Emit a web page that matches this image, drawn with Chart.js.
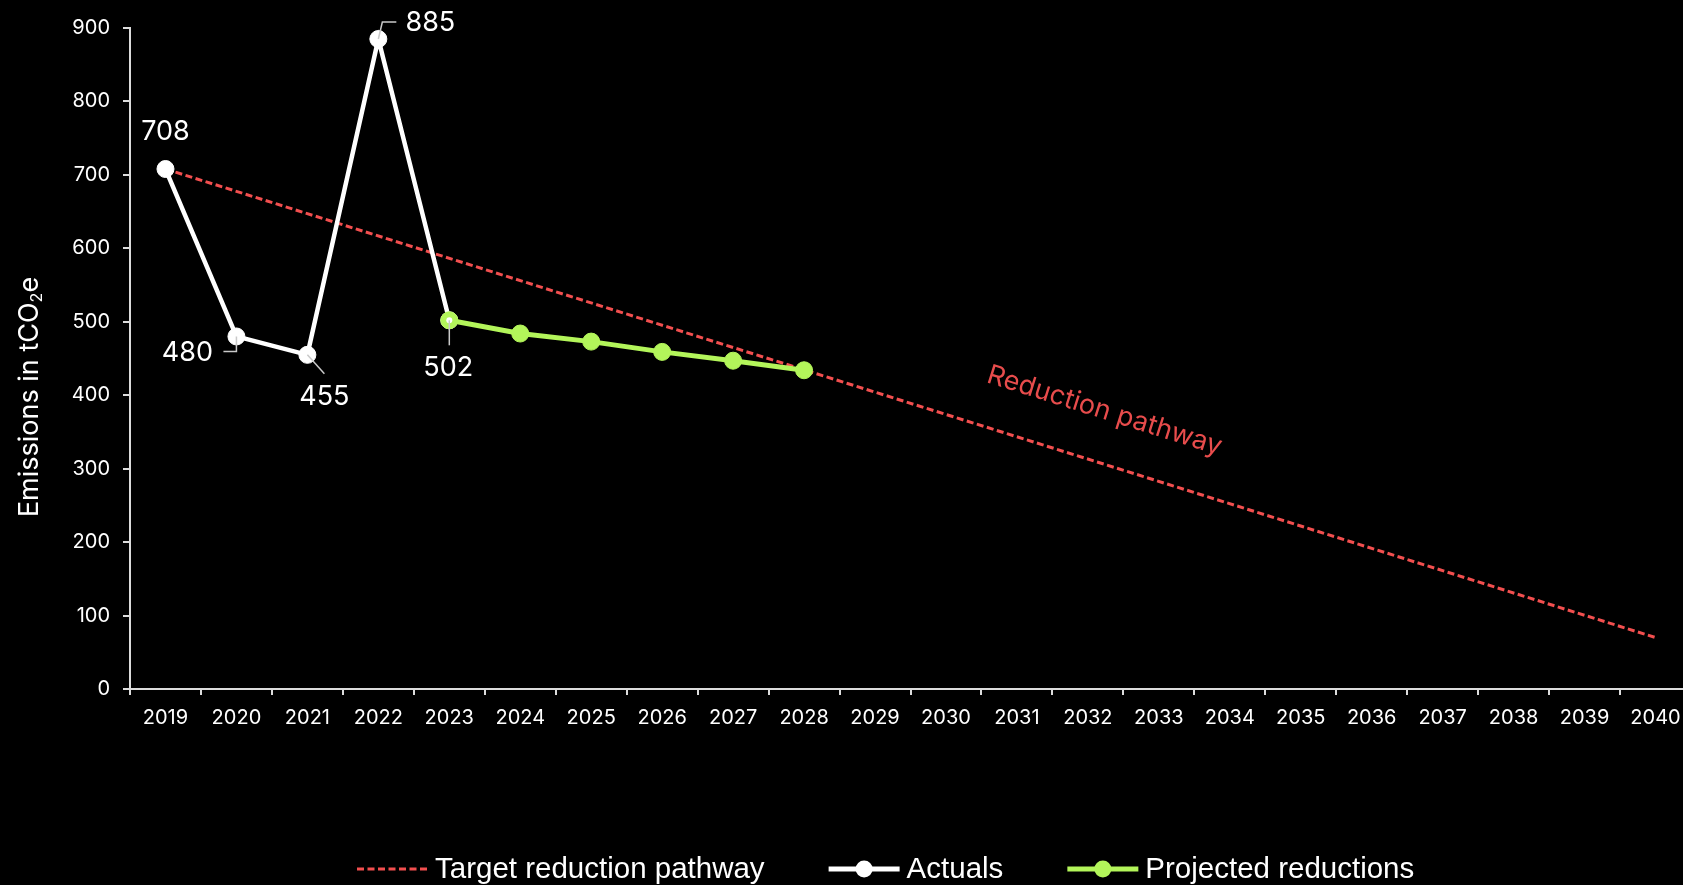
<!DOCTYPE html>
<html>
<head>
<meta charset="utf-8">
<title>Emissions reduction pathway</title>
<script src="https://cdn.jsdelivr.net/npm/chart.js@4.4.0/dist/chart.umd.min.js"></script>
<style>
    html, body { margin: 0; padding: 0; background: #000; overflow: hidden; }
    #wrap { position: relative; width: 1683px; height: 885px; overflow: hidden; }
    #emissionsChart { display: block; width: 1692px; height: 885px; }
</style>
</head>
<body>
<div id="wrap"><canvas id="emissionsChart" width="1692" height="885"></canvas></div>
<script>
// Data
const years = ['2019', '2020', '2021', '2022', '2023', '2024', '2025', '2026', '2027', '2028', '2029',
               '2030', '2031', '2032', '2033', '2034', '2035', '2036', '2037', '2038', '2039', '2040'];

const actuals = [708, 480, 455, 885, 502, null, null, null, null, null, null,
                 null, null, null, null, null, null, null, null, null, null, null];

const projected = [null, null, null, null, 502, 484, 473, 459, 447, 434, null,
                   null, null, null, null, null, null, null, null, null, null, null];

// only start and end of the pathway are known, the line spans the gap
const targetPathway = [708, null, null, null, null, null, null, null, null, null, null,
                       null, null, null, null, null, null, null, null, null, null, 70];

const yTicks = [0, 100, 200, 300, 400, 500, 600, 700, 800, 900];

const RED = '#f24f4f';
const GREEN = '#b3f55a';
const AXIS = '#dcdcdc';
const FONT = 'Inter';

Chart.defaults.font.family = FONT;
Chart.defaults.color = '#ffffff';

// Labels on the actuals, with little leader lines
const valueLabels = [
    { index: 0, dx: 0, dy: -37, leader: null },
    { index: 1, dx: -49, dy: 16, leader: [[0, 0], [0, 15], [-13, 15]] },
    { index: 2, dx: 17, dy: 42, leader: [[0, 0], [17, 19]] },
    { index: 3, dx: 52, dy: -16, leader: [[0, 0], [4, -17], [18, -17]] },
    { index: 4, dx: -1, dy: 48, leader: [[0, 0], [0, 25]], dot: true }
];

const annotationsPlugin = {
    id: 'annotations',
    afterDatasetsDraw: function(chart) {
        const ctx = chart.ctx;
        const meta = chart.getDatasetMeta(1);

        ctx.save();
        valueLabels.forEach(lbl => {
            const pt = meta.data[lbl.index];
            if (!pt) return;
            if (lbl.dot) {
                ctx.fillStyle = '#ffffff';
                ctx.beginPath();
                ctx.arc(pt.x, pt.y, 3, 0, Math.PI * 2);
                ctx.fill();
            }
            if (lbl.leader) {
                ctx.strokeStyle = '#c9c9c9';
                ctx.lineWidth = 1.5;
                ctx.beginPath();
                lbl.leader.forEach((p, i) => {
                    if (i === 0) ctx.moveTo(pt.x + p[0], pt.y + p[1]);
                    else ctx.lineTo(pt.x + p[0], pt.y + p[1]);
                });
                ctx.stroke();
            }
            ctx.fillStyle = '#ffffff';
            ctx.font = '27px ' + FONT;
            ctx.textAlign = 'center';
            ctx.textBaseline = 'middle';
            ctx.fillText(String(actuals[lbl.index]), pt.x + lbl.dx, pt.y + lbl.dy);
        });

        // "Reduction pathway" text along the target line
        const tMeta = chart.getDatasetMeta(0);
        const p0 = tMeta.data[0];
        const p1 = tMeta.data[tMeta.data.length - 1];
        const angle = Math.atan2(p1.y - p0.y, p1.x - p0.x);
        const t = 0.62;
        const off = 51;
        const cx = p0.x + (p1.x - p0.x) * t + Math.sin(angle) * off;
        const cy = p0.y + (p1.y - p0.y) * t - Math.cos(angle) * off;
        ctx.translate(cx, cy);
        ctx.rotate(angle);
        ctx.fillStyle = '#e84c4c';
        ctx.font = '27px ' + FONT;
        ctx.textAlign = 'center';
        ctx.textBaseline = 'middle';
        ctx.fillText('Reduction pathway', 0, 0);
        ctx.restore();
    },

    afterDraw: function(chart) {
        const ctx = chart.ctx;
        ctx.save();

        // Y axis title with a subscript 2
        ctx.translate(30, 397);
        ctx.rotate(-Math.PI / 2);
        ctx.fillStyle = '#ffffff';
        ctx.textBaseline = 'middle';
        ctx.textAlign = 'left';
        const big = '27px ' + FONT;
        const small = '16px ' + FONT;
        ctx.font = big;
        const w1 = ctx.measureText('Emissions in tCO').width;
        ctx.font = small;
        const w2 = ctx.measureText('2').width;
        ctx.font = big;
        const w3 = ctx.measureText('e').width;
        let x = -(w1 + w2 + w3) / 2;
        ctx.fillText('Emissions in tCO', x, 0);
        x += w1;
        ctx.font = small;
        ctx.fillText('2', x, 7);
        x += w2;
        ctx.font = big;
        ctx.fillText('e', x, 0);
        ctx.restore();

        // Legend
        ctx.save();
        const legendY = 869;
        let lx = 357;
        ctx.font = '29.5px "Liberation Sans", Arial, sans-serif';
        ctx.textBaseline = 'middle';
        ctx.textAlign = 'left';
        chart.data.datasets.forEach(ds => {
            ctx.strokeStyle = ds.borderColor;
            ctx.lineWidth = ds.pointRadius ? 5 : 3;
            ctx.setLineDash(ds.borderDash || []);
            ctx.beginPath();
            ctx.moveTo(lx, legendY);
            ctx.lineTo(lx + 71, legendY);
            ctx.stroke();
            ctx.setLineDash([]);
            if (ds.pointRadius) {
                ctx.fillStyle = ds.borderColor;
                ctx.beginPath();
                ctx.arc(lx + 35.5, legendY, 8.5, 0, Math.PI * 2);
                ctx.fill();
            }
            ctx.fillStyle = '#ffffff';
            ctx.fillText(ds.label, lx + 78, legendY + 1);
            lx += 78 + ctx.measureText(ds.label).width + 64;
        });
        ctx.restore();
    }
};

const chart = new Chart(document.getElementById('emissionsChart').getContext('2d'), {
    type: 'line',
    data: {
        labels: years,
        datasets: [
            {
                label: 'Target reduction pathway',
                data: targetPathway,
                borderColor: RED,
                borderWidth: 3,
                borderDash: [7, 3.5],
                pointRadius: 0,
                spanGaps: true,
                order: 3
            },
            {
                label: 'Actuals',
                data: actuals,
                borderColor: '#ffffff',
                backgroundColor: '#ffffff',
                borderWidth: 4.5,
                pointRadius: 8.5,
                pointBorderWidth: 1,
                order: 2
            },
            {
                label: 'Projected reductions',
                data: projected,
                borderColor: GREEN,
                backgroundColor: GREEN,
                borderWidth: 5,
                pointRadius: 8.5,
                pointBorderWidth: 1,
                order: 1
            }
        ]
    },
    options: {
        responsive: false,
        animation: false,
        // the last category runs a little past the right edge of the picture
        layout: { autoPadding: false, padding: { top: 28, right: 1, bottom: 0, left: 0 } },
        plugins: {
            legend: { display: false },
            tooltip: { enabled: false }
        },
        scales: {
            x: {
                offset: true,
                grid: {
                    offset: true,
                    drawOnChartArea: false,
                    tickLength: 6,
                    color: AXIS,
                    lineWidth: 2
                },
                border: { color: AXIS, width: 2 },
                ticks: {
                    color: '#ffffff',
                    font: { size: 20 },
                    padding: 11,
                    maxRotation: 0,
                    autoSkip: false
                },
                afterFit: scale => {
                    scale.height = 196;
                    scale.paddingLeft = 0;
                    scale.paddingRight = 0;
                }
            },
            y: {
                min: 0,
                max: 900,
                afterBuildTicks: scale => { scale.ticks = yTicks.map(v => ({ value: v })); },
                grid: {
                    drawOnChartArea: false,
                    tickLength: 7,
                    color: AXIS,
                    lineWidth: 2
                },
                border: { color: AXIS, width: 2 },
                ticks: {
                    color: '#ffffff',
                    font: { size: 20 },
                    padding: 13
                },
                afterFit: scale => { scale.width = 130; }
            }
        }
    },
    plugins: [annotationsPlugin]
});
</script>
</body>
</html>
